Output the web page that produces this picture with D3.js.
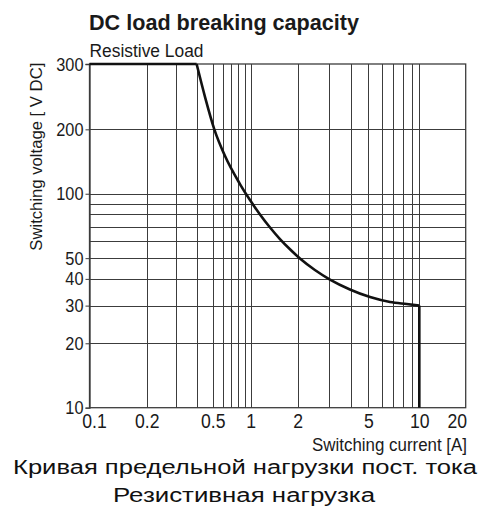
<!DOCTYPE html>
<html>
<head>
<meta charset="utf-8">
<script src="https://cdn.jsdelivr.net/npm/d3@7/dist/d3.min.js"></script>
<style>
  html, body { margin: 0; padding: 0; background: #fff; }
  svg { display: block; }
  text { font-family: "Liberation Sans", Arial, sans-serif; }
</style>
</head>
<body>
<svg id="chart" width="484" height="513"></svg>
<script>
// ---- data ----
const currentTicks = [0.1, 0.2, 0.5, 1, 2, 5, 10, 20];
const currentTickLabels = ["0.1", "0.2", "0.5", "1", "2", "5", "10", "20"];
const voltageTicks = [10, 20, 30, 40, 50, 100, 200, 300];
const voltageTickLabels = ["10", "20", "30", "40", "50", "100", "200", "300"];
const currentGrid = [0.2, 0.3, 0.4, 0.5, 0.6, 0.7, 0.8, 0.9, 1, 2, 3, 4, 5, 6, 7, 8, 9, 10];
const voltageGrid = [20, 30, 40, 50, 60, 70, 80, 90, 100, 200];
const curveCurrent = [0.1, 0.40, 0.45, 0.515, 0.626, 0.822, 0.987, 1.147, 1.33, 1.54, 1.785, 2.06, 2.5, 3.04, 3.94, 5.12, 6.72, 8.43, 10, 10];
const curveVoltage = [300, 300, 244, 200, 150, 111, 93.4, 80, 69.5, 61.4, 55, 49.8, 44, 39.7, 35.7, 32.9, 31.2, 30.5, 30, 10];

const titleText = "DC load breaking capacity";
const subtitleText = "Resistive Load";
const yTitle = "Switching voltage [ V DC]";
const xTitle = "Switching current [A]";
const ruLine1 = "Кривая предельной нагрузки пост. тока";
const ruLine2 = "Резистивная нагрузка";

// ---- layout ----
const plotLeft = 89.5, plotRight = 465.7, plotTop = 64, plotBottom = 407.7;
// the original axis is not evenly logarithmic: tick positions as fractions of plot width
const xTickFrac = [0, 0.1521, 0.3275, 0.4285, 0.5534, 0.7411, 0.8767, 1];
const yBreakFrac = 0.1901; // position of 200 V as a fraction of plot height from top
const condense = 0.86;     // horizontal squeeze for the condensed label face

const x = d3.scaleLog()
  .domain(currentTicks)
  .range(xTickFrac.map(f => plotLeft + f * (plotRight - plotLeft)));
const y = d3.scaleLog()
  .domain([10, 200, 300])
  .range([plotBottom, plotTop + yBreakFrac * (plotBottom - plotTop), plotTop]);

const svg = d3.select("#chart");
const ink = "#1a1a1a";
const gridColor = "#3c3c3c";

// grid
const grid = svg.append("g").attr("shape-rendering", "crispEdges");
grid.selectAll("line.vx").data(currentGrid).join("line")
  .attr("x1", d => Math.round(x(d)) + 0.5).attr("x2", d => Math.round(x(d)) + 0.5)
  .attr("y1", plotTop).attr("y2", plotBottom)
  .attr("stroke", gridColor).attr("stroke-width", 1);
grid.selectAll("line.hy").data(voltageGrid).join("line")
  .attr("y1", d => Math.round(y(d)) + 0.5).attr("y2", d => Math.round(y(d)) + 0.5)
  .attr("x1", plotLeft).attr("x2", plotRight)
  .attr("stroke", gridColor).attr("stroke-width", 1);

// frame
svg.append("rect")
  .attr("x", plotLeft).attr("y", plotTop)
  .attr("width", plotRight - plotLeft).attr("height", plotBottom - plotTop)
  .attr("fill", "none").attr("stroke", gridColor).attr("stroke-width", 1.3);

// axes
const xAxis = d3.axisBottom(x).tickValues(currentTicks)
  .tickFormat((d, i) => currentTickLabels[i]).tickSize(0).tickPadding(6);
const gx = svg.append("g")
  .attr("transform", `translate(0,${plotBottom})`).call(xAxis);
gx.select(".domain").remove();
gx.selectAll("text")
  .attr("font-size", 20.5).attr("fill", ink).attr("font-family", null)
  .attr("x", (d, i) => (i === 0 ? 4.5 : (i === currentTicks.length - 1 ? -9 : 0)) / condense)
  .attr("transform", `scale(${condense},1)`);

const yAxis = d3.axisLeft(y).tickValues(voltageTicks)
  .tickFormat((d, i) => voltageTickLabels[i]).tickSize(4).tickPadding(2);
const gy = svg.append("g")
  .attr("transform", `translate(${plotLeft},0)`).call(yAxis);
gy.select(".domain").attr("stroke", gridColor).attr("stroke-width", 1.3);
gy.selectAll(".tick line").attr("stroke", gridColor);
gy.selectAll("text")
  .attr("font-size", 19).attr("fill", ink).attr("font-family", null)
  .attr("x", -6 / condense)
  .attr("transform", `scale(${condense},1)`);

// curve
const pts = curveCurrent.map((c, i) => [x(c), y(curveVoltage[i])]);
const n = pts.length;
const lineLin = d3.line();
const lineSmooth = d3.line().curve(d3.curveMonotoneX);
const curveG = svg.append("g").attr("fill", "none").attr("stroke", "#111")
  .attr("stroke-width", 2.6).attr("stroke-linejoin", "round");
curveG.append("path").attr("d", lineLin(pts.slice(0, 2)));
curveG.append("path").attr("d", lineSmooth(pts.slice(1, n - 1)));
curveG.append("path").attr("d", lineLin(pts.slice(n - 2)));

// titles
svg.append("text")
  .attr("x", 89).attr("y", 30).attr("font-size", 22.5).attr("font-weight", "bold")
  .attr("fill", ink).attr("textLength", 270).attr("lengthAdjust", "spacingAndGlyphs")
  .text(titleText);
svg.append("text")
  .attr("x", 89.5).attr("y", 56.5).attr("font-size", 17.5)
  .attr("fill", ink).attr("textLength", 114).attr("lengthAdjust", "spacingAndGlyphs")
  .text(subtitleText);
svg.append("text")
  .attr("transform", `translate(41.5,62.7) rotate(-90)`)
  .attr("text-anchor", "end").attr("font-size", 17)
  .attr("fill", ink).attr("textLength", 188).attr("lengthAdjust", "spacingAndGlyphs")
  .text(yTitle);
svg.append("text")
  .attr("x", 467).attr("y", 451).attr("text-anchor", "end").attr("font-size", 17.5)
  .attr("fill", ink).attr("textLength", 155).attr("lengthAdjust", "spacingAndGlyphs")
  .text(xTitle);
svg.append("text")
  .attr("x", 245).attr("y", 473.5).attr("text-anchor", "middle").attr("font-size", 20)
  .attr("fill", "#111").attr("textLength", 464).attr("lengthAdjust", "spacingAndGlyphs")
  .text(ruLine1);
svg.append("text")
  .attr("x", 244).attr("y", 501.7).attr("text-anchor", "middle").attr("font-size", 20)
  .attr("fill", "#111").attr("textLength", 262).attr("lengthAdjust", "spacingAndGlyphs")
  .text(ruLine2);
</script>
</body>
</html>
